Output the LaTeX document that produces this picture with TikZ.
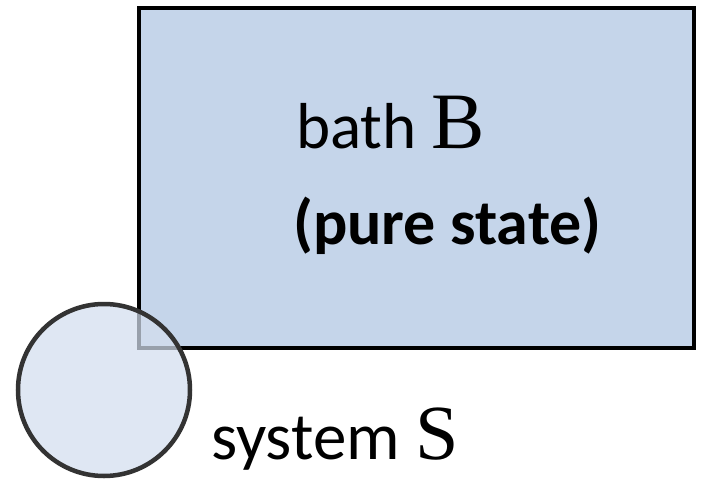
\documentclass[tikz,border=0pt]{standalone}
\usepackage{fontspec}
\setmainfont{Carlito}
\newfontfamily\letterfont{Liberation Serif}
\definecolor{bathfill}{HTML}{C5D5EA}
\definecolor{sysfill}{HTML}{D3DEEE}
\definecolor{sysline}{HTML}{333333}
\tikzset{
  bathbox/.style={draw=black, line width=4.5pt, fill=bathfill},
  sysdisc/.style={draw=sysline, line width=4.5pt, fill=sysfill, fill opacity=0.72},
  lbl/.style={anchor=base west, inner sep=0pt, text=black}
}
\begin{document}
\begin{tikzpicture}[x=1pt, y=-1pt]
\useasboundingbox (0,0) rectangle (704,479);
% bath
\draw[bathbox] (139,8) rectangle (694,348);
% system
\node[sysdisc, circle, minimum size=172pt, inner sep=0pt] (sys) at (104,390) {};
% labels
\node[lbl, font=\fontsize{65}{72}\selectfont] (bathlbl) at (296,148) {bath {\letterfont\fontsize{80}{90}\selectfont B}};
\node[lbl, font=\fontsize{64}{72}\selectfont\bfseries] (purelbl) at (293,244) {(pure state)};
\node[lbl, font=\fontsize{67}{74}\selectfont] (syslbl) at (211,459) {system {\letterfont\fontsize{78}{90}\selectfont S}};
\end{tikzpicture}
\end{document}
